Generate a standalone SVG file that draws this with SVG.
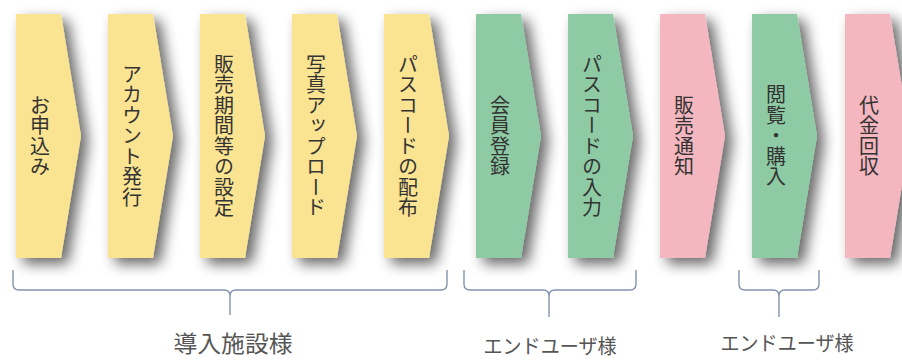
<svg xmlns="http://www.w3.org/2000/svg" width="902" height="360" viewBox="0 0 902 360">
<style>
.y{fill:#FAE391}.g{fill:#8ECBA4}.p{fill:#F5B7BF}
.chev{filter:url(#sh)}
.vt{font-family:"Noto Sans CJK JP","Noto Sans",sans-serif;font-size:20px;fill:#333;writing-mode:vertical-rl;text-anchor:middle;letter-spacing:0.5px}
.lbl{font-family:"Noto Sans CJK JP","Noto Sans",sans-serif;fill:#555;text-anchor:middle}
.brace{fill:none;stroke:#8393AC;stroke-width:1.4}
</style>
<defs>
<filter id="sh" x="-30%" y="-15%" width="180%" height="140%">
<feGaussianBlur in="SourceAlpha" stdDeviation="7"/>
<feOffset dx="7" dy="6" result="b"/>
<feComponentTransfer><feFuncA type="linear" slope="0.6"/></feComponentTransfer>
<feMerge><feMergeNode/><feMergeNode in="SourceGraphic"/></feMerge>
</filter>
<polygon id="cv" points="0,14 45,14 65,136 45,258 0,258"/>
</defs>
<rect width="902" height="360" fill="#fff"/>
<g id="n1"><use href="#cv" x="16" class="y chev"/><text class="vt" x="40" y="136">お申込み</text></g>
<g id="n2"><use href="#cv" x="108" class="y chev"/><text class="vt" x="132" y="136">アカウント発行</text></g>
<g id="n3"><use href="#cv" x="200" class="y chev"/><text class="vt" x="224" y="136">販売期間等の設定</text></g>
<g id="n4"><use href="#cv" x="292" class="y chev"/><text class="vt" x="316" y="136">写真アップロード</text></g>
<g id="n5"><use href="#cv" x="384" class="y chev"/><text class="vt" x="408" y="136">パスコードの配布</text></g>
<g id="n6"><use href="#cv" x="476" class="g chev"/><text class="vt" x="500" y="136">会員登録</text></g>
<g id="n7"><use href="#cv" x="568" class="g chev"/><text class="vt" x="592" y="136">パスコードの入力</text></g>
<g id="n8"><use href="#cv" x="660" class="p chev"/><text class="vt" x="684" y="136">販売通知</text></g>
<g id="n9"><use href="#cv" x="752" class="g chev"/><text class="vt" x="776" y="136">閲覧・購入</text></g>
<g id="n10"><use href="#cv" x="845" class="p chev"/><text class="vt" x="869" y="136">代金回収</text></g>
<g id="connectors">
<path class="brace" d="M13,270 L13,284 Q13,290 19,290 L224,290 Q230,290 230,296 L230,315 M230,296 Q230,290 236,290 L441,290 Q447,290 447,284 L447,270"/>
<path class="brace" d="M464,270 L464,284 Q464,290 470,290 L543,290 Q549,290 549,296 L549,317 M549,296 Q549,290 555,290 L630,290 Q636,290 636,284 L636,270"/>
<path class="brace" d="M739,270 L739,284 Q739,290 745,290 L773,290 Q779,290 779,296 L779,317 M779,296 Q779,290 785,290 L813,290 Q819,290 819,284 L819,270"/>
</g>
<g id="labels">
<text class="lbl" x="233" y="352" font-size="23" textLength="119" lengthAdjust="spacingAndGlyphs">導入施設様</text>
<text class="lbl" x="550" y="354" font-size="20" textLength="133" lengthAdjust="spacingAndGlyphs">エンドユーザ様</text>
<text class="lbl" x="787" y="351" font-size="20" textLength="133" lengthAdjust="spacingAndGlyphs">エンドユーザ様</text>
</g>
</svg>
